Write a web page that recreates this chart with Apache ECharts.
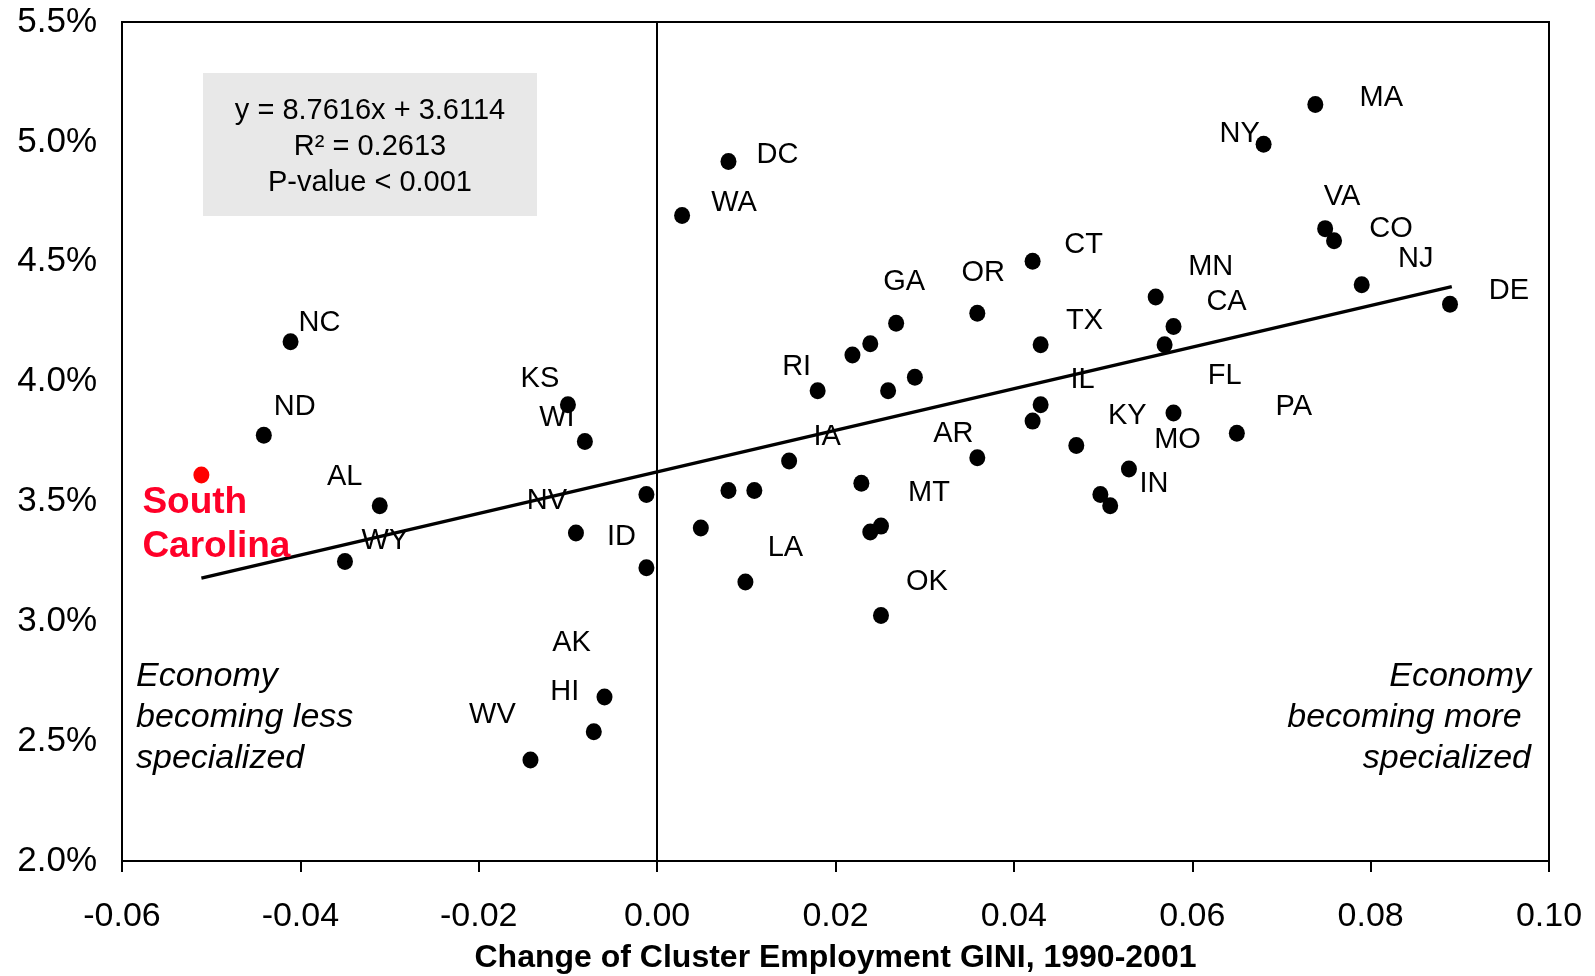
<!DOCTYPE html>
<html>
<head>
<meta charset="utf-8">
<script src="https://cdn.jsdelivr.net/npm/echarts@6/dist/echarts.min.js"></script>
<style>
  html, body { margin: 0; padding: 0; background: #fff; }
  #main { width: 1595px; height: 976px; }
</style>
</head>
<body>
<div id="main"></div>
<script>
// state codes ('' = dot without a label in the original)
var stateNames = ['NC', 'ND', 'SC', 'AL', 'WY', 'KS', 'WI', 'NV', '', 'ID',
  'AK', 'HI', 'WV', 'WA', 'DC', '', '', '', 'LA', 'IA',
  'RI', '', '', 'GA', '', '', '', 'MT', '', 'OK',
  'OR', 'AR', 'CT', 'TX', 'IL', '', 'KY', '', '', 'IN',
  'MN', 'CA', 'FL', 'MO', 'PA', 'NY', 'MA', 'VA', 'CO', 'NJ', 'DE'];
// change of cluster employment GINI, 1990-2001
var giniChange = [-0.0411, -0.0441, -0.0511, -0.0311, -0.0350, -0.0100, -0.0081, -0.0091, -0.0012, -0.0012,
  -0.0059, -0.0071, -0.0142, 0.0028, 0.0080, 0.0049, 0.0080, 0.0109, 0.0099, 0.0148,
  0.0180, 0.0219, 0.0239, 0.0268, 0.0259, 0.0289, 0.0229, 0.0251, 0.0239, 0.0251,
  0.0359, 0.0359, 0.0421, 0.0430, 0.0430, 0.0421, 0.0470, 0.0497, 0.0508, 0.0529,
  0.0559, 0.0579, 0.0569, 0.0579, 0.0650, 0.0680, 0.0738, 0.0749, 0.0759, 0.0790, 0.0889];
// y value in percent
var yValue = [4.166, 3.776, 3.610, 3.482, 3.249, 3.903, 3.750, 3.368, 3.529, 3.223,
  2.684, 2.539, 2.421, 4.693, 4.918, 3.389, 3.546, 3.546, 3.164, 3.669,
  3.962, 4.111, 4.158, 4.243, 3.962, 4.018, 3.576, 3.397, 3.372, 3.024,
  4.285, 3.682, 4.502, 4.154, 3.903, 3.835, 3.733, 3.529, 3.482, 3.635,
  4.353, 4.230, 4.154, 3.869, 3.784, 4.990, 5.156, 4.638, 4.587, 4.404, 4.323];
// trend line end points
var trendX = [-0.0511, 0.0891];
var trendY = [3.180, 4.396];

var highlightState = 'SC';

// label offsets in px from the dot centre
var labelOffsets = {
  NC: [29, -19], ND: [31, -28], AL: [-35, -29], WY: [40, -21], KS: [-28, -26],
  WI: [-28, -24], NV: [-29, -32], ID: [-25, -31], AK: [-33, -54], HI: [-29, -40],
  WV: [-38, -45], WA: [52, -12], DC: [49, -7], LA: [40, -34], IA: [38, -24],
  RI: [-21, -24], GA: [8, -41], MT: [48, -33], OK: [46, -34], OR: [6, -40],
  AR: [-24, -24], CT: [51, -16], TX: [44, -24], IL: [42, -25], KY: [51, -30],
  IN: [25, 15], MN: [55, -30], CA: [53, -24], FL: [60, 31], MO: [4, 27],
  PA: [57, -26], NY: [-24, -10], MA: [66, -6], VA: [17, -32], CO: [57, -12],
  NJ: [54, -26], DE: [59, -13]
};

var font = '"Liberation Sans", Arial, sans-serif';

var points = [];
for (var i = 0; i < stateNames.length; i++) {
  var nm = stateNames[i];
  var item = { value: [giniChange[i], yValue[i]], name: nm };
  if (nm === highlightState) {
    item.itemStyle = { color: '#ff0000', opacity: 1 };
    item.label = {
      show: true, position: 'inside', offset: [-59, 50], align: 'left',
      formatter: 'South\nCarolina', color: '#ff0028', fontWeight: 'bold',
      fontSize: 37, lineHeight: 44
    };
  } else if (nm) {
    item.label = { show: true, offset: labelOffsets[nm] || [0, -25] };
  }
  points.push(item);
}

var trendData = trendX.map(function (x, k) { return [x, trendY[k]]; });

var myChart = echarts.init(document.getElementById('main'));
myChart.setOption({
  animation: false,
  backgroundColor: '#fff',
  textStyle: { fontFamily: font },
  grid: {
    left: 122, right: 46, top: 22, bottom: 115,
    outerBoundsMode: 'none', containLabel: false,
    show: true, borderColor: '#000', borderWidth: 2
  },
  xAxis: {
    type: 'value', min: -0.06, max: 0.10, interval: 0.02,
    name: 'Change of Cluster Employment GINI, 1990-2001',
    nameLocation: 'middle', nameGap: 81,
    nameTextStyle: { color: '#000', fontSize: 32, fontWeight: 'bold', fontFamily: font },
    axisLine: { onZero: false, lineStyle: { color: '#000', width: 2 } },
    axisTick: { show: true, length: 11, lineStyle: { color: '#000', width: 2 } },
    axisLabel: {
      color: '#000', fontSize: 34, margin: 39, fontFamily: font,
      formatter: function (v) { return v.toFixed(2); }
    },
    splitLine: { show: false }
  },
  yAxis: {
    type: 'value', min: 2.0, max: 5.5, interval: 0.5,
    axisLine: { show: true, lineStyle: { color: '#000', width: 2 } },
    axisTick: { show: false },
    axisLabel: {
      color: '#000', fontSize: 35, margin: 25, fontFamily: font,
      formatter: function (v) { return v.toFixed(1) + '%'; }
    },
    splitLine: { show: false }
  },
  graphic: [
    {
      type: 'rect', z: 1,
      shape: { x: 203, y: 73, width: 334, height: 143 },
      style: { fill: '#e8e8e8' }
    },
    {
      type: 'text', z: 2, x: 370, y: 93,
      style: {
        text: 'y = 8.7616x + 3.6114\nR² = 0.2613\nP-value < 0.001',
        font: '29px ' + font, fill: '#000', textAlign: 'center', lineHeight: 36
      }
    },
    {
      type: 'text', z: 2, x: 136, y: 656,
      style: {
        text: 'Economy\nbecoming less\nspecialized',
        font: 'italic 34px ' + font, fill: '#000', textAlign: 'left', lineHeight: 41
      }
    },
    {
      type: 'text', z: 2, x: 1531, y: 656,
      style: {
        text: 'Economy\nbecoming more \nspecialized',
        font: 'italic 34px ' + font, fill: '#000', textAlign: 'right', lineHeight: 41
      }
    }
  ],
  series: [
    {
      name: 'trend', type: 'line', data: trendData, symbol: 'none',
      lineStyle: { color: '#000', width: 3.5 }, z: 3
    },
    {
      name: 'states', type: 'scatter', data: points, z: 4,
      symbolSize: [16, 17],
      itemStyle: { color: '#000', opacity: 1 },
      label: {
        show: false, position: 'inside', color: '#000', fontSize: 29,
        fontFamily: font,
        formatter: function (p) { return p.name; }
      },
      markLine: {
        silent: true, symbol: 'none', label: { show: false },
        lineStyle: { color: '#000', width: 1.5, type: 'solid' },
        data: [{ xAxis: 0 }]
      }
    }
  ]
});
</script>
</body>
</html>
